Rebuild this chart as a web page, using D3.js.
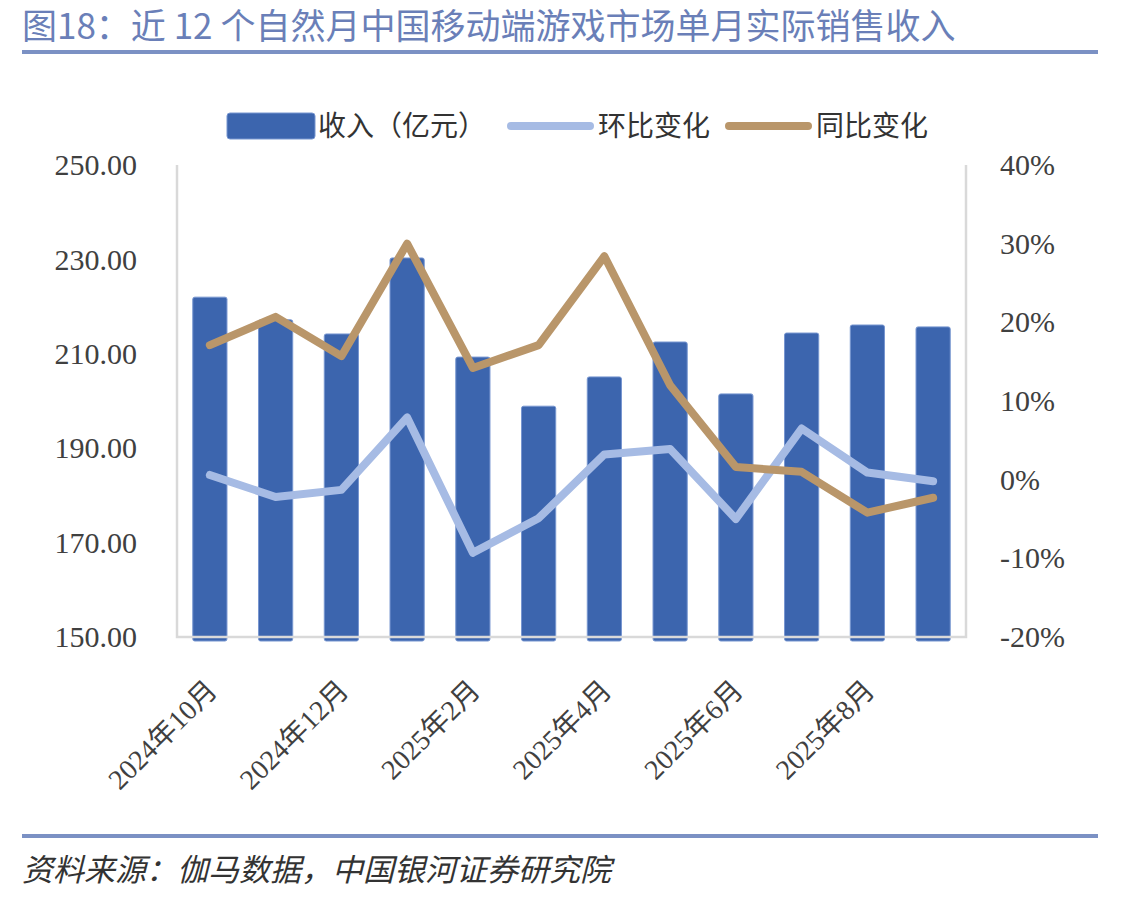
<!DOCTYPE html>
<html>
<head>
  <meta charset="utf-8">
  <script src="https://d3js.org/d3.v7.min.js"></script>
  <style>
    body { margin: 0; background: white; }
    svg { display: block; background: white; }
    .num { font-family: "Liberation Serif", "Times New Roman", "Noto Sans CJK SC", serif; fill: #404040; }
    .cjk { font-family: "Noto Sans CJK SC", "Noto Sans", sans-serif; }
  </style>
</head>
<body>
<svg width="1146" height="901"></svg>
<script>
// months (categories)
const months = ["2024年10月", "2024年11月", "2024年12月", "2025年1月", "2025年2月", "2025年3月",
                "2025年4月", "2025年5月", "2025年6月", "2025年7月", "2025年8月", "2025年9月"];
// revenue, 亿元
const revenue = [222.0, 217.2, 214.2, 230.3, 209.3, 198.9, 205.1, 212.5, 201.5, 214.4, 216.1, 215.7];
// month-on-month change (环比)
const momChange = [0.006, -0.022, -0.013, 0.079, -0.093, -0.049, 0.032, 0.039, -0.050, 0.065, 0.009, -0.002];
// year-on-year change (同比)
const yoyChange = [0.171, 0.207, 0.157, 0.300, 0.142, 0.171, 0.284, 0.120, 0.016, 0.010, -0.042, -0.023];
// tick labels
const leftTicks = [150, 170, 190, 210, 230, 250];
const rightTicks = [-0.2, -0.1, 0, 0.1, 0.2, 0.3, 0.4];
const xTickLabels = ["2024年10月", "2024年12月", "2025年2月", "2025年4月", "2025年6月", "2025年8月"];

const svg = d3.select("svg");
const plotL = 177, plotR = 966, plotT = 165, plotB = 637;

// title
svg.append("text")
  .attr("class", "cjk")
  .attr("x", 22).attr("y", 39)
  .attr("font-size", 35)
  .attr("fill", "#6a7fb8")
  .text("图18：近 12 个自然月中国移动端游戏市场单月实际销售收入");
svg.append("rect").attr("x", 22).attr("y", 50).attr("width", 1076).attr("height", 4).attr("fill", "#7b91c4");

// source
svg.append("rect").attr("x", 22).attr("y", 834).attr("width", 1076).attr("height", 4).attr("fill", "#7b91c4");
svg.append("text")
  .attr("class", "cjk")
  .attr("x", 22).attr("y", 881)
  .attr("font-size", 31)
  .attr("font-style", "italic")
  .attr("fill", "#333")
  .text("资料来源：伽马数据，中国银河证券研究院");

// scales
const x = d3.scaleBand().domain(months).range([plotL, plotR]).paddingInner(0.48).paddingOuter(0.24);
const yL = d3.scaleLinear().domain([150, 250]).range([plotB, plotT]);
const yR = d3.scaleLinear().domain([-0.2, 0.4]).range([plotB, plotT]);

// bars
svg.append("g").selectAll("rect")
  .data(months)
  .join("rect")
  .attr("x", d => x(d))
  .attr("y", (d, i) => yL(revenue[i]))
  .attr("width", x.bandwidth())
  .attr("height", (d, i) => yL(150) - yL(revenue[i]) + 4)
  .attr("rx", 2)
  .attr("fill", "#3c65ae")
  .attr("stroke", "#7796d0")
  .attr("stroke-width", 1);

// frame lines
const frame = svg.append("g").attr("stroke", "#d9d9d9").attr("stroke-width", 2.5).attr("fill", "none");
frame.append("path").attr("d", `M${plotL},${plotT}V${plotB}H${plotR}V${plotT}`);

// left axis
const gL = svg.append("g").attr("transform", `translate(${plotL},0)`)
  .call(d3.axisLeft(yL).tickValues(leftTicks).tickFormat(d3.format(".2f")).tickSize(0).tickPadding(40));
gL.select(".domain").remove();
gL.selectAll("text").attr("class", "num").attr("font-size", 30);

// right axis
const gR = svg.append("g").attr("transform", `translate(${plotR},0)`)
  .call(d3.axisRight(yR).tickValues(rightTicks).tickFormat(d => Math.round(d * 100) + "%").tickSize(0).tickPadding(34));
gR.select(".domain").remove();
gR.selectAll("text").attr("class", "num").attr("font-size", 30);

// bottom axis
const gB = svg.append("g").attr("transform", `translate(0,${plotB})`)
  .call(d3.axisBottom(x).tickValues(xTickLabels).tickSize(0));
gB.select(".domain").remove();
gB.selectAll("text")
  .attr("class", "num")
  .attr("font-size", 28)
  .attr("y", 0).attr("dy", 0)
  .attr("text-anchor", "end")
  .attr("transform", "translate(9,55) rotate(-45)");

// lines
const lineGen = vals => d3.line()
  .x(d => x(d) + x.bandwidth() / 2)
  .y((d, i) => yR(vals[i]));

svg.append("path")
  .datum(months)
  .attr("fill", "none")
  .attr("stroke", "#a6bbe4")
  .attr("stroke-width", 8)
  .attr("stroke-linecap", "round")
  .attr("stroke-linejoin", "round")
  .attr("d", lineGen(momChange));

svg.append("path")
  .datum(months)
  .attr("fill", "none")
  .attr("stroke", "#b9966a")
  .attr("stroke-width", 8)
  .attr("stroke-linecap", "round")
  .attr("stroke-linejoin", "round")
  .attr("d", lineGen(yoyChange));

// legend
const legend = svg.append("g").attr("class", "cjk").attr("font-size", 28).attr("fill", "#333");
legend.append("rect").attr("x", 227).attr("y", 113).attr("width", 88).attr("height", 26).attr("rx", 3)
  .attr("fill", "#3c65ae").attr("stroke", "#7796d0");
legend.append("text").attr("x", 318).attr("y", 136).text("收入（亿元）");
legend.append("line").attr("x1", 511).attr("x2", 590).attr("y1", 126).attr("y2", 126)
  .attr("stroke", "#a6bbe4").attr("stroke-width", 8).attr("stroke-linecap", "round");
legend.append("text").attr("x", 598).attr("y", 136).text("环比变化");
legend.append("line").attr("x1", 729).attr("x2", 808).attr("y1", 126).attr("y2", 126)
  .attr("stroke", "#b9966a").attr("stroke-width", 8).attr("stroke-linecap", "round");
legend.append("text").attr("x", 816).attr("y", 136).text("同比变化");
</script>
</body>
</html>
